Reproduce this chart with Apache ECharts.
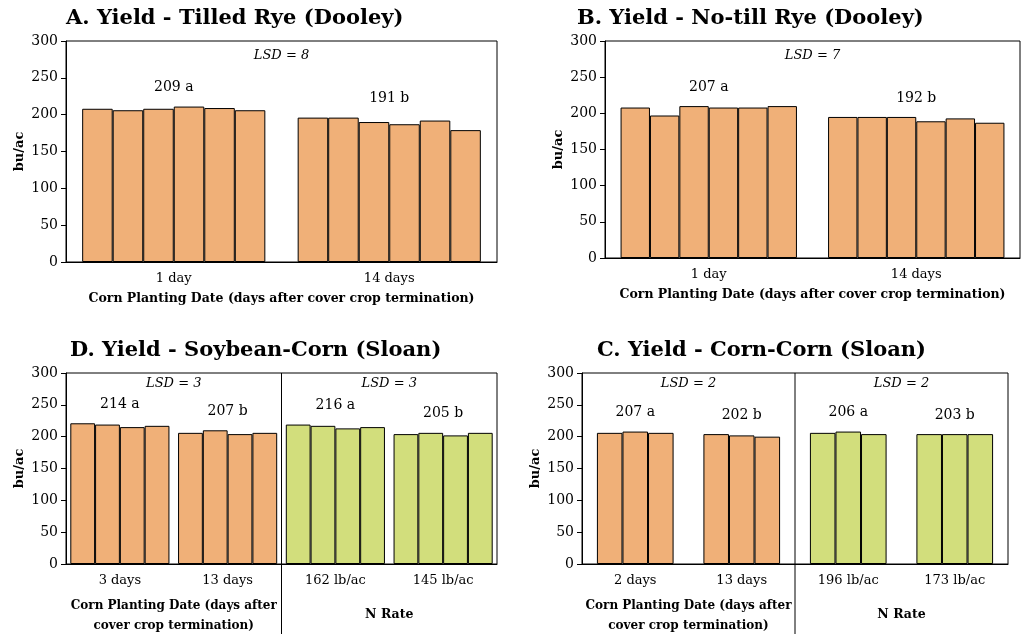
<!DOCTYPE html><html><head><meta charset="utf-8">
<script src="https://cdn.jsdelivr.net/npm/echarts@6/dist/echarts.min.js"></script>
<style>body{margin:0}#c{width:1024px;height:636px}</style></head><body><div id="c"></div>
<script>
const ORANGE='#F0B078', GREEN='#D2DE7C';
// Panel A
const catsA=['1 day','14 days'];
const valsA=[[208,206,208,211,209,206],[196,196,190,187,192,179]];
const lblA=['209 a','191 b'];
// Panel B
const catsB=['1 day','14 days'];
const valsB=[[208,197,210,208,208,210],[195,195,195,189,193,187]];
const lblB=['207 a','192 b'];
// Panel D
const catsD=['3 days','13 days','162 lb/ac','145 lb/ac'];
const valsD=[[221,219,215,217],[206,210,204,206],[219,217,213,215],[204,206,202,206]];
const lblD=['214 a','207 b','216 a','205 b'];
// Panel C
const catsC=['2 days','13 days','196 lb/ac','173 lb/ac'];
const valsC=[[206,208,206],[204,202,200],[206,208,204],[204,204,204]];
const lblC=['207 a','202 b','206 a','203 b'];
const yTicks=[0,50,100,150,200,250,300];

const F='DejaVu Serif';
const panels=[
 {title:'A. Yield - Tilled Rye (Dooley)',cats:catsA,vals:valsA,lbl:lblA,lsd:['LSD = 8'],grid:{left:66,width:431,top:41,height:221},gap:'15%',tx:66,ty:8,tick:10,green:false},
 {title:'B. Yield - No-till Rye (Dooley)',cats:catsB,vals:valsB,lbl:lblB,lsd:['LSD = 7'],grid:{left:605,width:415,top:41,height:217},gap:'15%',tx:577,ty:8,tick:10,green:false},
 {title:'D. Yield - Soybean-Corn (Sloan)',cats:catsD,vals:valsD,lbl:lblD,lsd:['LSD = 3','LSD = 3'],grid:{left:66,width:431,top:373,height:191},gap:'8%',tx:70,ty:340,tick:24,green:true},
 {title:'C. Yield - Corn-Corn (Sloan)',cats:catsC,vals:valsC,lbl:lblC,lsd:['LSD = 2','LSD = 2'],grid:{left:582,width:426,top:373,height:191},gap:'28%',tx:597,ty:340,tick:24,green:true}
];
const opt={animation:false,grid:[],xAxis:[],yAxis:[],series:[],graphic:[]};
panels.forEach((p,i)=>{
 opt.grid.push(Object.assign({show:true,borderColor:'#000',borderWidth:1},p.grid));
 opt.xAxis.push({type:'category',gridIndex:i,data:p.cats,axisLine:{lineStyle:{color:'#000'}},axisTick:{length:p.tick,lineStyle:{color:'#000'}},axisLabel:{color:'#000',fontFamily:F,fontSize:13,margin:10}});
 opt.yAxis.push({type:'value',gridIndex:i,min:0,max:300,interval:50,splitLine:{show:false},axisLine:{show:true,lineStyle:{color:'#000'}},axisTick:{show:true,lineStyle:{color:'#000'}},axisLabel:{color:'#000',fontFamily:F,fontSize:14},name:'bu/ac',nameLocation:'middle',nameGap:40,nameTextStyle:{fontFamily:F,fontWeight:'bold',fontSize:13,color:'#000'}});
 const n=Math.max(...p.vals.map(v=>v.length));
 for(let k=0;k<n;k++){
  opt.series.push({type:'bar',xAxisIndex:i,yAxisIndex:i,barGap:'0%',barCategoryGap:p.gap,
   data:p.vals.map((g,gi)=>({value:g[k],itemStyle:{color:(p.green&&gi>=2)?GREEN:ORANGE}})),
   itemStyle:{borderColor:'#000',borderWidth:1}});
 }
 opt.graphic.push({type:'text',left:p.tx,top:p.ty,style:{text:p.title,font:'bold 21px "DejaVu Serif"',fill:'#000'}});
});
const chart=echarts.init(document.getElementById('c'));
chart.setOption(opt);
const g=[];
panels.forEach((p,i)=>{
 const pt=(c,v)=>chart.convertToPixel({xAxisIndex:i,yAxisIndex:i},[c,v]);
 p.vals.forEach((vals,gi)=>{
  const [x,y]=pt(gi,Math.max(...vals));
  g.push({type:'text',x:x,y:y-12,style:{text:p.lbl[gi],font:'14px "DejaVu Serif"',fill:'#000',align:'center',verticalAlign:'bottom'}});
 });
 const gx=p.grid.left,gw=p.grid.width,bottom=p.grid.top+p.grid.height;
 if(p.lsd.length===1){
  g.push({type:'text',x:gx+gw/2,y:pt(0,280)[1],style:{text:p.lsd[0],font:'italic 13px "DejaVu Serif"',fill:'#000',align:'center',verticalAlign:'middle'}});
  g.push({type:'text',x:gx+gw/2,y:bottom+30,style:{text:'Corn Planting Date (days after cover crop termination)',font:'bold 12.5px "DejaVu Serif"',fill:'#000',align:'center',verticalAlign:'top'}});
 } else {
  [gx+gw/4,gx+3*gw/4].forEach((x,j)=>g.push({type:'text',x:x,y:pt(0,283)[1],style:{text:p.lsd[j],font:'italic 13px "DejaVu Serif"',fill:'#000',align:'center',verticalAlign:'middle'}}));
  g.push({type:'line',shape:{x1:gx+gw/2,y1:p.grid.top,x2:gx+gw/2,y2:bottom+70},style:{stroke:'#000',lineWidth:1}});
  g.push({type:'text',x:gx+gw/4,y:bottom+32,style:{text:'Corn Planting Date (days after\ncover crop termination)',font:'bold 12px "DejaVu Serif"',fill:'#000',align:'center',verticalAlign:'top',lineHeight:20}});
  g.push({type:'text',x:gx+3*gw/4,y:bottom+44,style:{text:'N Rate',font:'bold 12.5px "DejaVu Serif"',fill:'#000',align:'center',verticalAlign:'top'}});
 }
});
chart.setOption({graphic:opt.graphic.concat(g)});
</script></body></html>
